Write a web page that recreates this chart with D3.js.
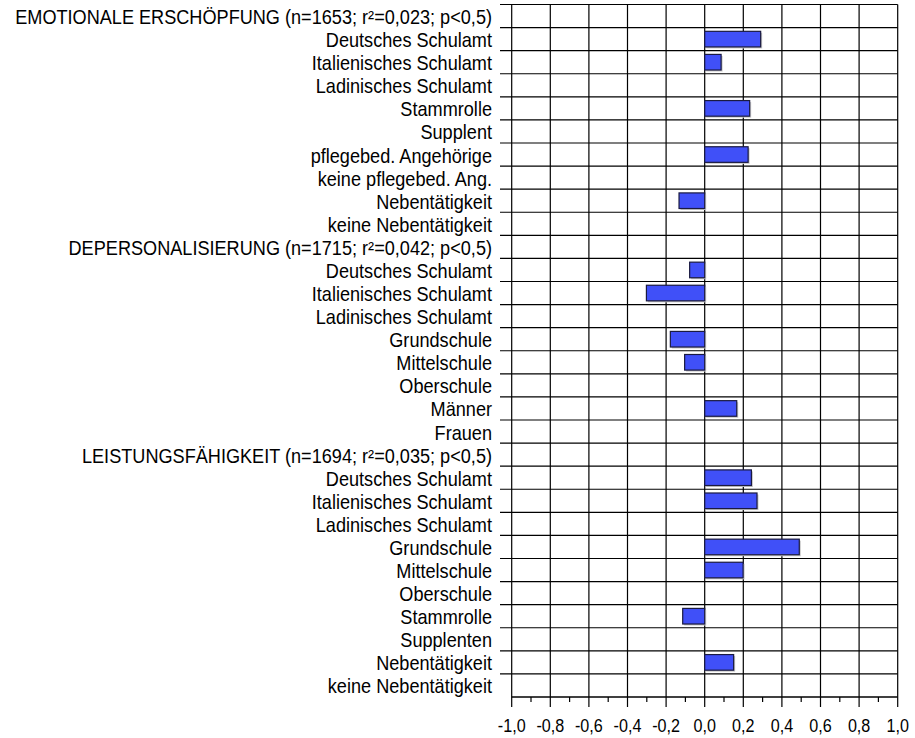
<!DOCTYPE html>
<html><head><meta charset="utf-8">
<script src="https://cdn.jsdelivr.net/npm/d3@7"></script>
<style>body{margin:0;background:#fff}svg{display:block}</style>
</head><body>
<script>
const categories = [
  "EMOTIONALE ERSCHÖPFUNG (n=1653; r²=0,023; p<0,5)",
  "Deutsches Schulamt","Italienisches Schulamt","Ladinisches Schulamt","Stammrolle","Supplent",
  "pflegebed. Angehörige","keine pflegebed. Ang.","Nebentätigkeit","keine Nebentätigkeit",
  "DEPERSONALISIERUNG (n=1715; r²=0,042; p<0,5)",
  "Deutsches Schulamt","Italienisches Schulamt","Ladinisches Schulamt","Grundschule","Mittelschule",
  "Oberschule","Männer","Frauen",
  "LEISTUNGSFÄHIGKEIT (n=1694; r²=0,035; p<0,5)",
  "Deutsches Schulamt","Italienisches Schulamt","Ladinisches Schulamt","Grundschule","Mittelschule",
  "Oberschule","Stammrolle","Supplenten","Nebentätigkeit","keine Nebentätigkeit"
];
const values = [
  null, 0.29, 0.085, 0, 0.233, 0, 0.225, 0, -0.133, 0,
  null, -0.078, -0.302, 0, -0.178, -0.104, 0, 0.166, 0,
  null, 0.242, 0.271, 0, 0.49, 0.199, 0, -0.114, 0, 0.15, 0
];
const xTicks = [-1,-0.8,-0.6,-0.4,-0.2,0,0.2,0.4,0.6,0.8,1];
const xMinor = [-0.9,-0.7,-0.5,-0.3,-0.1,0.1,0.3,0.5,0.7,0.9];
const fmt = v => v.toFixed(1).replace(".", ",");

const W = 915, H = 738;
const svg = d3.select("body").append("svg").attr("width", W).attr("height", H);
const L = 511.7, R = 897.7, T = 4.5, B = 697;
const x = d3.scaleLinear().domain([-1, 1]).range([L, R]);
const y = d3.scaleBand().domain(d3.range(categories.length)).range([T, B]).padding(0);
const bw = y.bandwidth();
const font = "'Liberation Sans', Arial, sans-serif";

// horizontal gridlines (row boundaries) extend left of the axis
svg.append("g").selectAll("line").data(d3.range(categories.length)).join("line")
  .attr("x1", 500).attr("x2", R)
  .attr("y1", i => y(i)).attr("y2", i => y(i))
  .attr("stroke", "#000").attr("stroke-width", 1.2);
// bottom axis line
svg.append("line").attr("x1", L).attr("x2", R).attr("y1", B).attr("y2", B)
  .attr("stroke", "#000").attr("stroke-width", 1.4);
// vertical gridlines + major ticks
svg.append("g").selectAll("line").data(xTicks).join("line")
  .attr("x1", d => x(d)).attr("x2", d => x(d))
  .attr("y1", T).attr("y2", B + 10)
  .attr("stroke", "#000").attr("stroke-width", 1.2);
// minor ticks
svg.append("g").selectAll("line").data(xMinor).join("line")
  .attr("x1", d => x(d)).attr("x2", d => x(d))
  .attr("y1", B).attr("y2", B + 5)
  .attr("stroke", "#000").attr("stroke-width", 1.2);
// tick labels
svg.append("g").selectAll("g").data(xTicks).join("g")
  .attr("transform", d => `translate(${x(d)},732) scale(0.85,1)`)
  .append("text")
  .attr("text-anchor", "middle")
  .attr("font-family", font).attr("font-size", 19).attr("fill", "#000")
  .text(fmt);

// category labels
svg.append("g").selectAll("g").data(categories).join("g")
  .attr("transform", (d, i) => `translate(492,${y(i) + bw / 2 + 8}) scale(0.93,1)`)
  .append("text")
  .attr("text-anchor", "end")
  .attr("font-family", font).attr("font-size", 19.5).attr("fill", "#000")
  .text(d => d);

// bars
const bh = 15.6;
const data = values.map((v, i) => ({ v, i })).filter(d => d.v !== null);
const gb = svg.append("g");
gb.selectAll("rect.sh").data(data.filter(d => d.v !== 0)).join("rect")
  .attr("class", "sh")
  .attr("x", d => Math.min(x(0), x(d.v)) + 1.5)
  .attr("y", d => y(d.i) + (bw - bh) / 2 + 1.5)
  .attr("width", d => Math.abs(x(d.v) - x(0)))
  .attr("height", bh)
  .attr("fill", "#c8c8c8");
gb.selectAll("rect.bar").data(data).join("rect")
  .attr("class", "bar")
  .attr("x", d => Math.min(x(0), x(d.v)))
  .attr("y", d => y(d.i) + (bw - bh) / 2)
  .attr("width", d => Math.abs(x(d.v) - x(0)))
  .attr("height", bh)
  .attr("fill", "#4050f8")
  .attr("stroke", "#1a1a40").attr("stroke-width", 1.2);
</script>
</body></html>
